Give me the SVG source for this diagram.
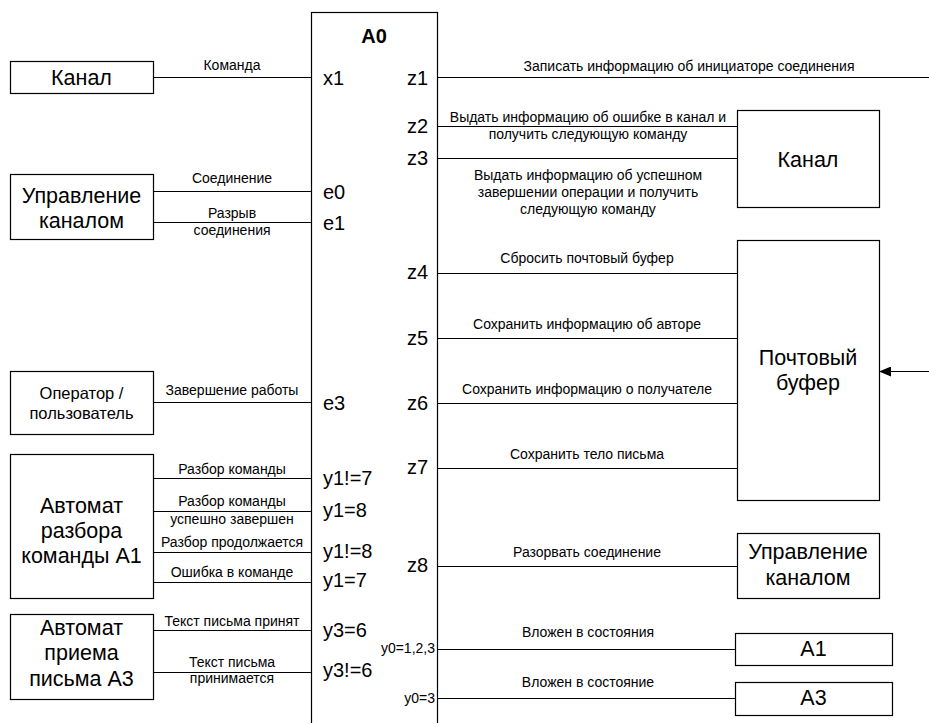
<svg xmlns="http://www.w3.org/2000/svg" width="929" height="723" viewBox="0 0 929 723">
  <style>
    .box { fill: #fff; stroke: #000; stroke-width: 1.2; }
    .ln { stroke: #000; stroke-width: 1; fill: none; }
    text { font-family: "Liberation Sans", Arial, sans-serif; fill: #000; }
    .sm { font-size: 14px; text-anchor: middle; }
    .big { font-size: 21.5px; text-anchor: middle; }
    .mid { font-size: 16.5px; text-anchor: middle; }
    .port { font-size: 20px; }
    .pr { font-size: 20px; text-anchor: end; }
    .st { font-size: 14px; text-anchor: end; }
    .title { font-size: 20px; font-weight: bold; text-anchor: middle; }
  </style>
  <defs>
    <marker id="arr" viewBox="0 0 12 10" refX="12" refY="5" markerWidth="12" markerHeight="10" markerUnits="userSpaceOnUse" orient="auto">
      <path d="M0,0 L12,5 L0,10 Z" fill="#000"/>
    </marker>
  </defs>
  <rect width="929" height="723" fill="#fff"/>

  <!-- connectors -->
  <g id="connectors">
    <line class="ln" x1="153" y1="77.5" x2="311" y2="77.5"/>
    <line class="ln" x1="153" y1="191.5" x2="311" y2="191.5"/>
    <line class="ln" x1="153" y1="222.5" x2="311" y2="222.5"/>
    <line class="ln" x1="153" y1="402.5" x2="311" y2="402.5"/>
    <line class="ln" x1="153" y1="478.5" x2="311" y2="478.5"/>
    <line class="ln" x1="153" y1="511.5" x2="311" y2="511.5"/>
    <line class="ln" x1="153" y1="552.5" x2="313" y2="552.5"/>
    <line class="ln" x1="153" y1="582.5" x2="311" y2="582.5"/>
    <line class="ln" x1="153" y1="630.5" x2="311" y2="630.5"/>
    <line class="ln" x1="153" y1="672.5" x2="311" y2="672.5"/>

    <line class="ln" x1="437" y1="77.5" x2="929" y2="77.5"/>
    <line class="ln" x1="437" y1="126.5" x2="737" y2="126.5"/>
    <line class="ln" x1="437" y1="158.5" x2="737" y2="158.5"/>
    <line class="ln" x1="437" y1="273.5" x2="737" y2="273.5"/>
    <line class="ln" x1="437" y1="338.5" x2="737" y2="338.5"/>
    <line class="ln" x1="437" y1="403.5" x2="737" y2="403.5"/>
    <line class="ln" x1="437" y1="468.5" x2="737" y2="468.5"/>
    <line class="ln" x1="437" y1="566.5" x2="737" y2="566.5"/>
    <line class="ln" x1="437" y1="649.5" x2="735" y2="649.5"/>
    <line class="ln" x1="437" y1="698.5" x2="735" y2="698.5"/>

    <line class="ln" x1="929" y1="371.5" x2="879" y2="371.5" marker-end="url(#arr)"/>

    <!-- connector labels, left side -->
    <text class="sm" x="232" y="70">Команда</text>
    <text class="sm" x="232" y="183">Соединение</text>
    <text class="sm" x="232" y="218">Разрыв</text>
    <text class="sm" x="232" y="235">соединения</text>
    <text class="sm" x="232" y="395">Завершение работы</text>
    <text class="sm" x="232" y="474">Разбор команды</text>
    <text class="sm" x="232" y="506">Разбор команды</text>
    <text class="sm" x="232" y="524">успешно завершен</text>
    <text class="sm" x="232" y="547">Разбор продолжается</text>
    <text class="sm" x="232" y="577">Ошибка в команде</text>
    <text class="sm" x="232" y="626">Текст письма принят</text>
    <text class="sm" x="232" y="667">Текст письма</text>
    <text class="sm" x="232" y="683">принимается</text>

    <!-- connector labels, right side -->
    <text class="sm" x="689" y="71">Записать информацию об инициаторе соединения</text>
    <text class="sm" x="588" y="122">Выдать информацию об ошибке в канал и</text>
    <text class="sm" x="588" y="139">получить следующую команду</text>
    <text class="sm" x="588" y="180">Выдать информацию об успешном</text>
    <text class="sm" x="588" y="197">завершении операции и получить</text>
    <text class="sm" x="588" y="214">следующую команду</text>
    <text class="sm" x="587" y="263">Сбросить почтовый буфер</text>
    <text class="sm" x="587" y="329">Сохранить информацию об авторе</text>
    <text class="sm" x="587" y="394">Сохранить информацию о получателе</text>
    <text class="sm" x="587" y="459">Сохранить тело письма</text>
    <text class="sm" x="587" y="557">Разорвать соединение</text>
    <text class="sm" x="588" y="637">Вложен в состояния</text>
    <text class="sm" x="588" y="687">Вложен в состояние</text>
  </g>

  <!-- central automaton -->
  <g id="a0">
    <rect class="box" x="311.5" y="12.5" width="126" height="720"/>
    <text class="title" x="374" y="43">A0</text>
    <text class="port" x="323" y="85">x1</text>
    <text class="port" x="323" y="199">e0</text>
    <text class="port" x="323" y="230">e1</text>
    <text class="port" x="323" y="410">e3</text>
    <text class="port" x="323" y="485">y1!=7</text>
    <text class="port" x="323" y="517">y1=8</text>
    <text class="port" x="323" y="558">y1!=8</text>
    <text class="port" x="323" y="587">y1=7</text>
    <text class="port" x="323" y="637">y3=6</text>
    <text class="port" x="323" y="677">y3!=6</text>
    <text class="pr" x="428" y="85">z1</text>
    <text class="pr" x="428" y="133">z2</text>
    <text class="pr" x="428" y="165">z3</text>
    <text class="pr" x="428" y="279">z4</text>
    <text class="pr" x="428" y="345">z5</text>
    <text class="pr" x="428" y="410">z6</text>
    <text class="pr" x="428" y="474">z7</text>
    <text class="pr" x="428" y="572">z8</text>
    <text class="st" x="435" y="653">y0=1,2,3</text>
    <text class="st" x="435" y="703">y0=3</text>
  </g>

  <!-- left side nodes -->
  <g id="channel-in">
    <rect class="box" x="10.5" y="61.5" width="143" height="32"/>
    <text class="big" x="81.5" y="85">Канал</text>
  </g>
  <g id="channel-control-in">
    <rect class="box" x="10.5" y="174.5" width="143" height="65"/>
    <text class="big" x="81.5" y="203">Управление</text>
    <text class="big" x="81.5" y="228">каналом</text>
  </g>
  <g id="operator">
    <rect class="box" x="10.5" y="371.5" width="143" height="63"/>
    <text class="mid" x="81.5" y="399">Оператор /</text>
    <text class="mid" x="81.5" y="419">пользователь</text>
  </g>
  <g id="automaton-a1">
    <rect class="box" x="10.5" y="454.5" width="143" height="144"/>
    <text class="big" x="81.5" y="513">Автомат</text>
    <text class="big" x="81.5" y="538">разбора</text>
    <text class="big" x="81.5" y="563">команды A1</text>
  </g>
  <g id="automaton-a3">
    <rect class="box" x="10.5" y="614.5" width="143" height="85"/>
    <text class="big" x="81.5" y="635">Автомат</text>
    <text class="big" x="81.5" y="660">приема</text>
    <text class="big" x="81.5" y="686">письма A3</text>
  </g>

  <!-- right side nodes -->
  <g id="channel-out">
    <rect class="box" x="737.5" y="110.5" width="142" height="97"/>
    <text class="big" x="808" y="167">Канал</text>
  </g>
  <g id="mail-buffer">
    <rect class="box" x="737.5" y="240.5" width="142" height="260"/>
    <text class="big" x="808" y="365">Почтовый</text>
    <text class="big" x="808" y="390">буфер</text>
  </g>
  <g id="channel-control-out">
    <rect class="box" x="737.5" y="533.5" width="142" height="65"/>
    <text class="big" x="808" y="559">Управление</text>
    <text class="big" x="808" y="585">каналом</text>
  </g>
  <g id="a1">
    <rect class="box" x="735.5" y="633.5" width="157" height="32"/>
    <text class="big" x="813.5" y="656">A1</text>
  </g>
  <g id="a3">
    <rect class="box" x="735.5" y="682.5" width="157" height="33"/>
    <text class="big" x="813.5" y="705">A3</text>
  </g>
</svg>
